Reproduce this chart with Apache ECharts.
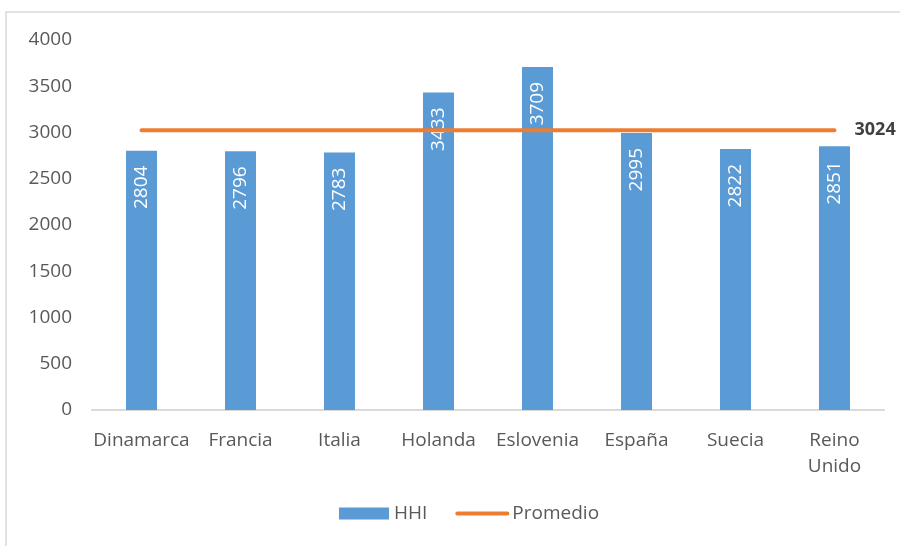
<!DOCTYPE html>
<html><head><meta charset="utf-8">
<script src="https://cdn.jsdelivr.net/npm/echarts@6/dist/echarts.min.js"></script>
<style>html,body{margin:0;padding:0;background:#fff}#c{width:900px;height:546px}</style>
</head><body><div id="c"></div>
<script>
const categories = ['Dinamarca','Francia','Italia','Holanda','Eslovenia','España','Suecia','Reino\nUnido'];
const hhi = [2804, 2796, 2783, 3433, 3709, 2995, 2822, 2851];
const promedio = 3024;
const yTicks = [0, 500, 1000, 1500, 2000, 2500, 3000, 3500, 4000];

const font = '"Open Sans", sans-serif';
const chart = echarts.init(document.getElementById('c'));
chart.setOption({
  animation: false,
  textStyle: { fontFamily: font },
  graphic: [{ type: 'rect', shape: { x: 6, y: 12, width: 905, height: 545 }, style: { fill: 'none', stroke: '#d9d9d9', lineWidth: 1.5 }, silent: true }],
  grid: { left: 92, right: 16, top: 40, bottom: 136 },
  legend: {
    bottom: 18, left: 334, itemGap: 28, itemWidth: 50, itemHeight: 12,
    textStyle: { fontFamily: font, fontSize: 19, color: '#595959' },
    data: [
      { name: 'HHI', icon: 'rect' },
      { name: 'Promedio', itemStyle: { opacity: 0 }, lineStyle: { color: '#ED7D31', width: 4, cap: 'round' } }
    ]
  },
  xAxis: {
    type: 'category', data: categories,
    axisLine: { lineStyle: { color: '#d9d9d9', width: 2 } },
    axisTick: { show: false },
    axisLabel: { fontFamily: font, fontSize: 19, color: '#595959', margin: 18, lineHeight: 26, interval: 0 }
  },
  yAxis: {
    type: 'value', min: yTicks[0], max: yTicks[yTicks.length - 1], interval: 500,
    axisLine: { show: false }, axisTick: { show: false }, splitLine: { show: false },
    axisLabel: { fontFamily: font, fontSize: 19, color: '#595959', margin: 20, formatter: v => String(v) }
  },
  series: [
    {
      name: 'HHI', type: 'bar', data: hhi, barWidth: 31,
      itemStyle: { color: '#5B9BD5' },
      label: { show: true, position: 'insideTop', rotate: 90, align: 'right', verticalAlign: 'middle', distance: 15,
        color: '#fff', fontFamily: font, fontSize: 19 }
    },
    {
      name: 'Promedio', type: 'line', symbol: 'none',
      lineStyle: { color: '#ED7D31', width: 4, cap: 'round' },
      itemStyle: { color: '#ED7D31' },
      endLabel: { show: true, distance: 20, formatter: p => String(p.value), color: '#404040', fontWeight: 'bold', fontSize: 18, fontFamily: font },
      data: categories.map(() => promedio)
    }
  ]
});
</script></body></html>
